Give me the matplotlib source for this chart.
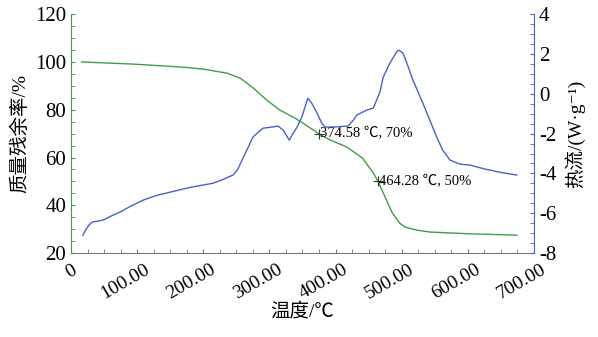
import numpy as np
import matplotlib
matplotlib.use("Agg")
import matplotlib.pyplot as plt
from matplotlib.ticker import MultipleLocator
from matplotlib.transforms import ScaledTranslation

plt.rcParams['font.family'] = ['Liberation Serif', 'Noto Sans CJK SC', 'DejaVu Sans']
plt.rcParams['axes.unicode_minus'] = False

# TG curve (mass residue, %)
tg_t = [16, 94, 170, 200, 236, 256, 276, 296, 316, 336, 346, 374.58, 392, 417,
        441, 457, 464.28, 485, 497, 505, 523, 543, 600, 674]
tg_m = [100, 99.1, 97.8, 97.0, 95.3, 93.2, 89.0, 84.0, 79.8, 76.9, 75.2, 70.0,
        67.3, 64.4, 59.7, 53.5, 50.0, 37.2, 32.5, 30.9, 29.6, 28.8, 28.1, 27.5]

# DSC curve (heat flow, W/g)
dsc_t = [18, 22, 27, 32, 40, 49, 60, 74, 90, 109, 130, 150, 180, 215, 230, 245,
         252, 260, 268, 275, 283, 290, 304, 313, 321, 330, 336, 341, 349, 358,
         364, 372, 379, 384, 396, 419, 427, 432, 447, 457, 467, 472, 482, 493,
         496, 502, 510, 517, 532, 553, 562, 573, 588, 603, 626, 650, 674]
dsc_q = [-7.1, -6.85, -6.6, -6.44, -6.4, -6.34, -6.15, -5.94, -5.65, -5.34,
         -5.1, -4.94, -4.7, -4.49, -4.3, -4.08, -3.8, -3.23, -2.68, -2.18,
         -1.93, -1.73, -1.67, -1.62, -1.83, -2.33, -1.98, -1.72, -1.17, -0.22,
         -0.47, -0.97, -1.47, -1.67, -1.67, -1.62, -1.32, -1.07, -0.82, -0.72,
         0.08, 0.83, 1.54, 2.14, 2.19, 2.04, 1.34, 0.68, -0.47, -2.18, -2.83,
         -3.33, -3.53, -3.58, -3.78, -3.95, -4.08]

marks_t = [374.58, 464.28]
marks_m = [70, 50]
marks_txt = ['374.58 ℃, 70%', '464.28 ℃, 50%']

green = '#3f9e45'
blue = '#4763c4'

fig = plt.figure(figsize=(5.98, 3.37), dpi=100)
ax = fig.add_axes([0.1187, 0.249, 0.7743, 0.709])
ax2 = ax.twinx()

ax.plot(tg_t, tg_m, color=green, lw=1.0)
ax2.plot(dsc_t, dsc_q, color=blue, lw=1.0)
ax.plot(marks_t, marks_m, '+', color='#333333', ms=7, mew=0.8)
for t, m, s in zip(marks_t, marks_m, marks_txt):
    ax.text(t + 2, m, s, fontsize=10.5, va='center', ha='left')

ax.set_xlim(0, 700)
ax.set_ylim(20, 120)
ax2.set_ylim(-8, 4)
ax.xaxis.set_minor_locator(MultipleLocator(25))
ax.yaxis.set_major_locator(MultipleLocator(20))
ax.yaxis.set_minor_locator(MultipleLocator(5))
ax2.yaxis.set_major_locator(MultipleLocator(2))
ax2.yaxis.set_minor_locator(MultipleLocator(0.5))

ax.spines['top'].set_visible(False)
ax2.spines['top'].set_visible(False)
ax.spines['left'].set_color(green)
ax2.spines['left'].set_visible(False)
ax2.spines['right'].set_color(blue)
ax.spines['right'].set_visible(False)
ax.spines['bottom'].set_color('#777777')
ax2.spines['bottom'].set_visible(False)

ax.tick_params(axis='x', which='both', direction='in', color='#777777',
               length=3, pad=6)
ax.tick_params(axis='y', which='both', direction='in', color=green, length=3,
               labelsize=15)
ax2.tick_params(axis='y', which='both', direction='in', color=blue, length=3,
                labelsize=15)

xt = list(range(0, 701, 100))
ax.set_xticks(xt)
ax.set_xticklabels(['0'] + ['%.2f' % v for v in xt[1:]], rotation=30,
                   ha='right', va='top', rotation_mode='anchor', fontsize=14)
shift = ScaledTranslation(7 / 100, 0, fig.dpi_scale_trans)
for lab in ax.get_xticklabels()[1:]:
    lab.set_transform(lab.get_transform() + shift)

ax.set_xlabel('温度/℃', fontsize=14, labelpad=0)
ax.set_ylabel('质量残余率/%', fontsize=14, labelpad=4)
ax2.set_ylabel('热流/(W·g⁻¹)', fontsize=14, labelpad=6)

fig.savefig('out.png', dpi=100)
